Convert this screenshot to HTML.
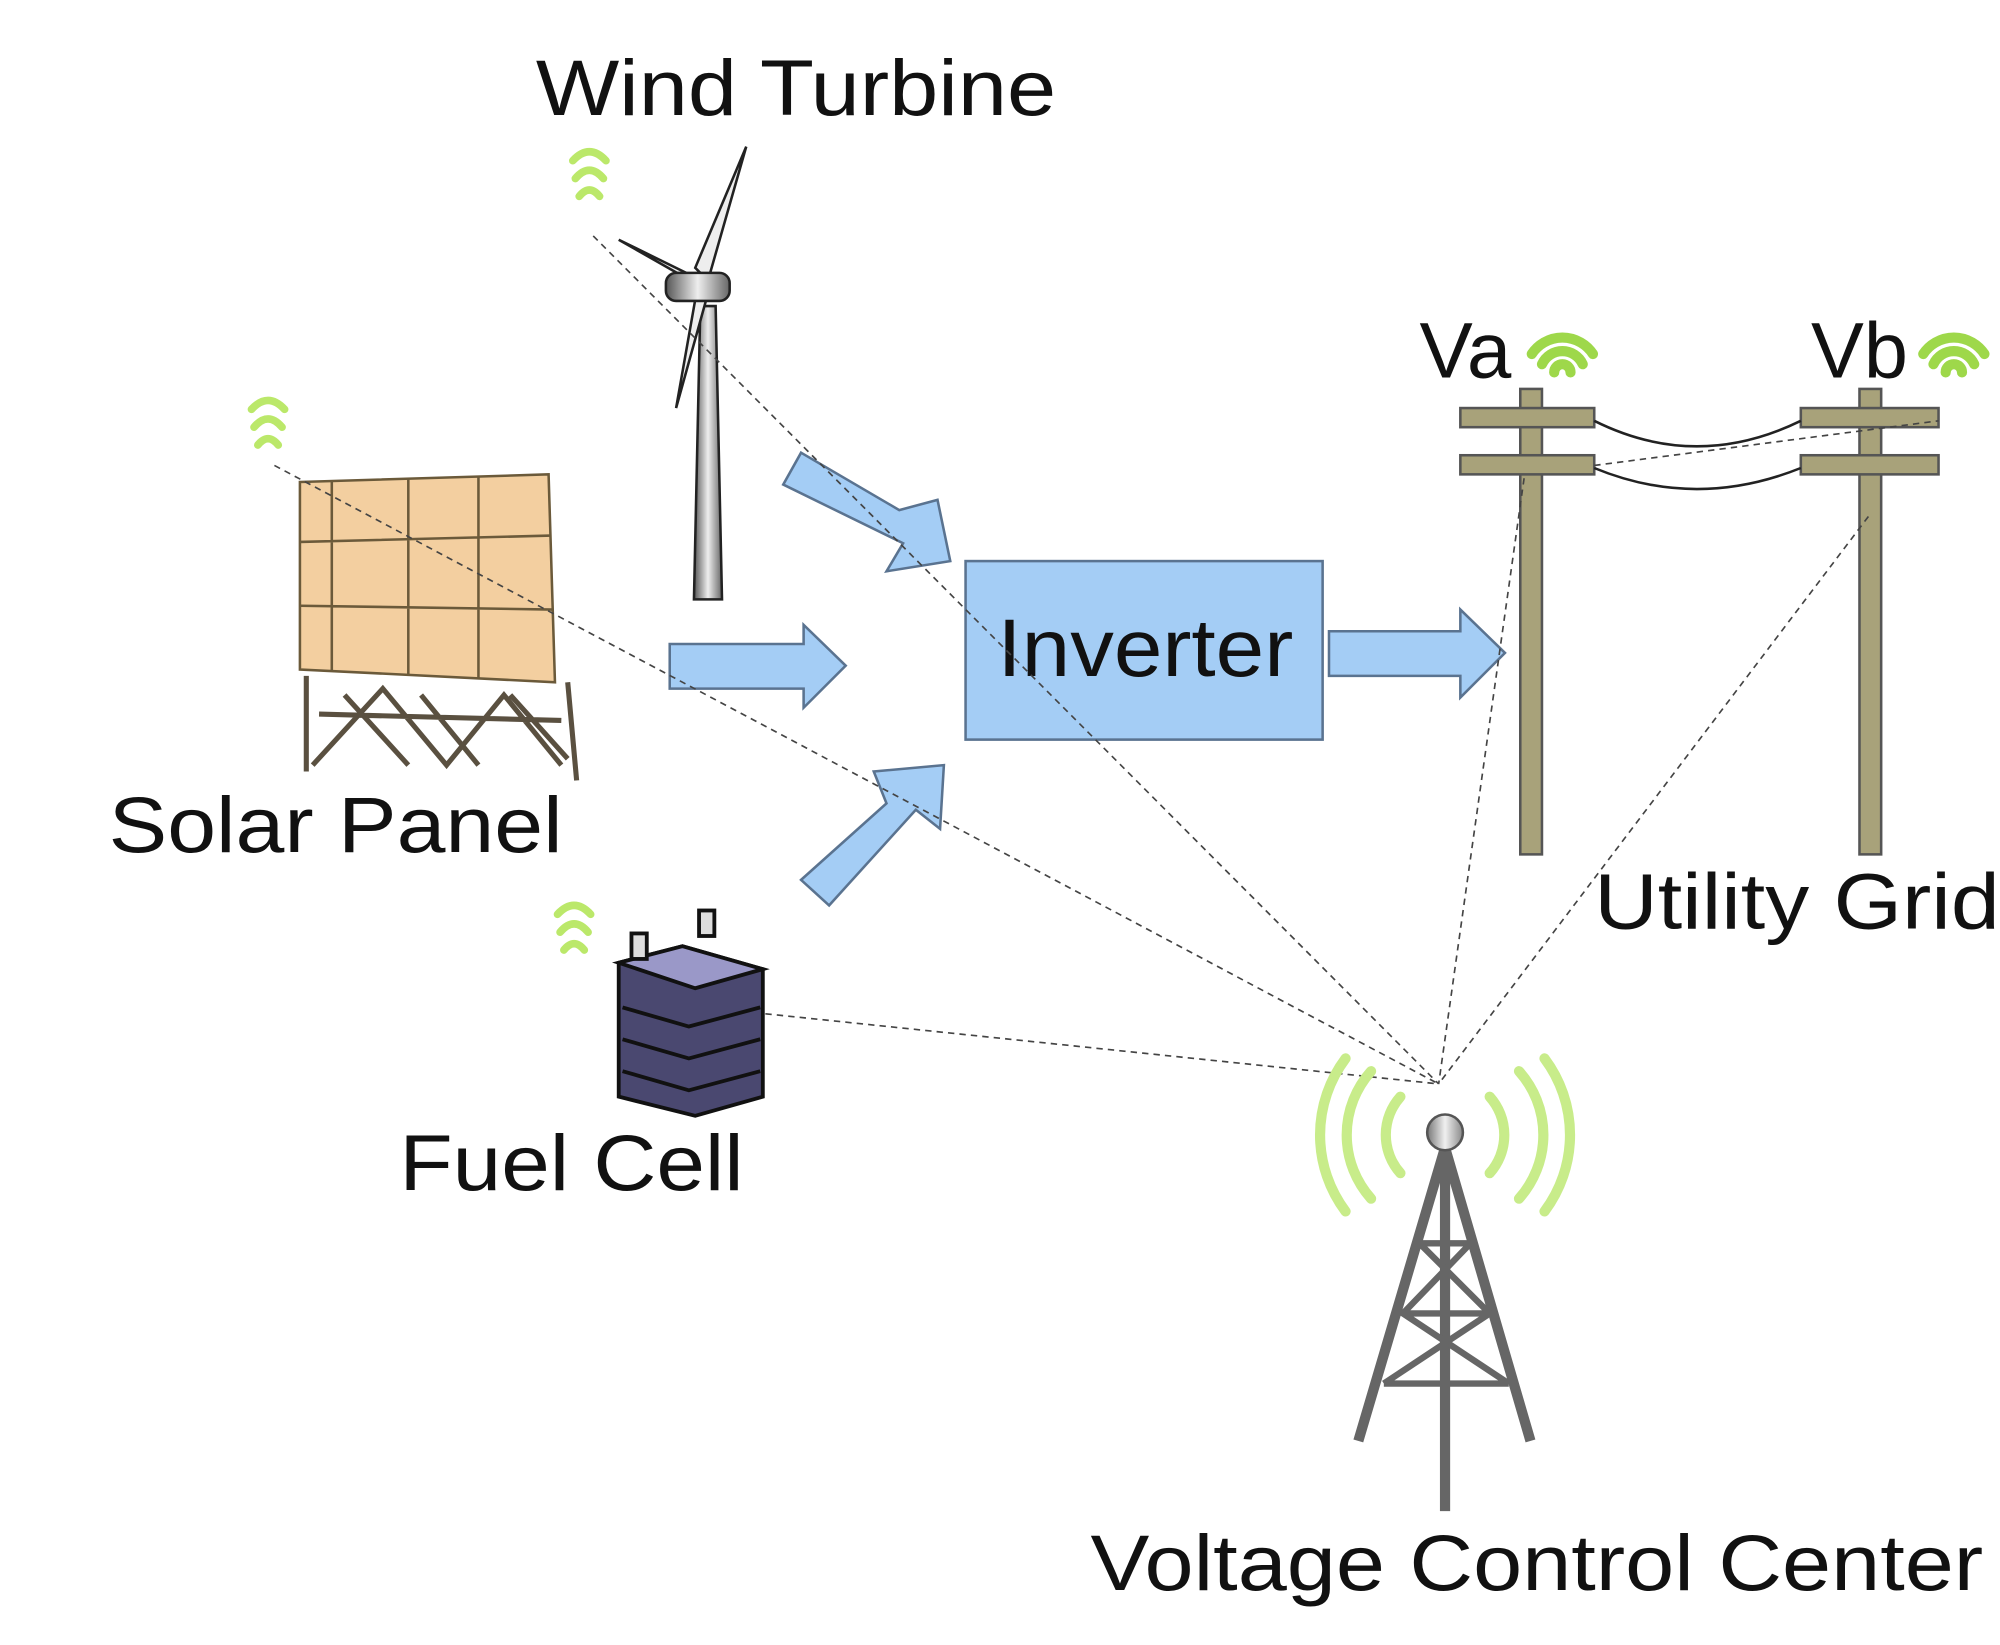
<!DOCTYPE html>
<html><head><meta charset="utf-8"><style>html,body{margin:0;padding:0;background:#fff}svg{display:block}</style></head>
<body>
<svg width="2000" height="1645" viewBox="0 0 1568 1290" xmlns="http://www.w3.org/2000/svg" font-family="Liberation Sans, sans-serif">
<defs>
<linearGradient id="g1" x1="0" x2="1"><stop offset="0" stop-color="#555"/><stop offset="0.5" stop-color="#eee"/><stop offset="1" stop-color="#666"/></linearGradient>
<linearGradient id="g2" x1="0" x2="1"><stop offset="0" stop-color="#777"/><stop offset="0.5" stop-color="#f0f0f0"/><stop offset="1" stop-color="#888"/></linearGradient>
<g id="sig" fill="none" stroke="#9ed84a" stroke-width="5" stroke-linecap="round">
<path d="M-4,0 a4,4 0 0 1 8,0"/><path d="M-10,-4 a11,11 0 0 1 20,0"/><path d="M-15,-9 a18,18 0 0 1 30,0"/>
</g>
<g id="sig2" fill="none" stroke="#b4e65a" stroke-width="6" stroke-linecap="round" opacity="0.9">
<path d="M-13,-16 Q0,-30 13,-16"/><path d="M-11,-2 Q0,-15 11,-2"/><path d="M-8,12 Q0,2 8,12"/>
</g>
</defs>
<rect width="1568" height="1290" fill="#fff"/>

<!-- arrows -->
<g fill="#a4cdf5" stroke="#5a7390" stroke-width="2">
<path d="M525,505 L630,505 L630,490 L663,522 L630,555 L630,540 L525,540 Z"/>
<path d="M1042,495 L1145,495 L1145,478 L1180,512 L1145,547 L1145,530 L1042,530 Z"/>
<path d="M628,355 L705,400 L735,392 L745,440 L695,448 L708,426 L614,380 Z"/>
<path d="M628,690 L695,630 L685,605 L740,600 L737,650 L718,635 L650,710 Z"/>
<rect x="757" y="440" width="280" height="140"/>
</g>
<text x="898" y="530" font-size="64" text-anchor="middle" fill="#111" textLength="232" lengthAdjust="spacingAndGlyphs">Inverter</text>

<!-- wind turbine -->
<path d="M549,240 L561,240 L566,470 L544,470 Z" fill="url(#g1)" stroke="#222" stroke-width="2"/>
<path d="M555,220 L585,115 L545,210 Z" fill="#eee" stroke="#222" stroke-width="2"/>
<path d="M550,225 L485,188 L540,215 Z" fill="#eee" stroke="#222" stroke-width="2"/>
<path d="M555,230 L530,320 L545,235 Z" fill="#eee" stroke="#222" stroke-width="2"/>
<rect x="522" y="214" width="50" height="22" rx="8" fill="url(#g1)" stroke="#222" stroke-width="2"/>

<!-- solar panel -->
<g stroke="#6b5a3a" stroke-width="2">
<path d="M235,378 L430,372 L435,535 L235,525 Z" fill="#f3cfa0"/>
<path d="M260,378 L260,527 M320,376 L320,530 M375,374 L375,532 M235,425 L432,420 M235,475 L433,478" fill="none"/>
<path d="M240,530 L240,605 M445,535 L452,612 M250,560 L440,565 M245,600 L300,540 L350,600 L395,545 L440,600 M270,545 L320,600 M330,545 L375,600 M400,545 L445,595" fill="none" stroke="#5a5040" stroke-width="4"/>
</g>

<!-- fuel cell -->
<path d="M485,755 L535,742 L598,760 L598,860 L545,875 L485,860 Z" fill="#4a4870" stroke="#111" stroke-width="3"/>
<path d="M485,755 L535,742 L598,760 L545,775 Z" fill="#9a98c8" stroke="#111" stroke-width="3"/>
<g stroke="#111" stroke-width="3" fill="none"><path d="M488,790 L540,805 L596,790 M488,815 L540,830 L596,815 M488,840 L540,855 L596,840"/><rect x="495" y="732" width="12" height="20" fill="#ddd"/><rect x="548" y="714" width="12" height="20" fill="#ddd"/></g>

<!-- poles -->
<g fill="#a8a27a" stroke="#555" stroke-width="2">
<rect x="1192" y="305" width="17" height="365"/>
<rect x="1458" y="305" width="17" height="365"/>
<rect x="1145" y="320" width="105" height="15"/>
<rect x="1145" y="357" width="105" height="15"/>
<rect x="1412" y="320" width="108" height="15"/>
<rect x="1412" y="357" width="108" height="15"/>
</g>
<g fill="none" stroke="#222" stroke-width="2">
<path d="M1250,330 Q1330,370 1412,330"/>
<path d="M1250,367 Q1330,400 1412,367"/>
</g>

<!-- dashed connectors (on top) -->
<g stroke="#444" stroke-width="1.3" stroke-dasharray="5,4" fill="none">
<line x1="465" y1="185" x2="1128" y2="850"/>
<line x1="215" y1="365" x2="1128" y2="850"/>
<line x1="600" y1="795" x2="1128" y2="850"/>
<line x1="1195" y1="375" x2="1128" y2="850"/>
<line x1="1465" y1="405" x2="1128" y2="850"/>
<line x1="1250" y1="365" x2="1520" y2="330"/>
</g>

<!-- tower -->
<g fill="none" stroke="#666" stroke-width="8">
<path d="M1133,900 L1065,1130 M1133,900 L1200,1130 M1133,900 L1133,1185"/>
<path d="M1113,975 L1153,975 M1100,1030 L1168,1030 M1085,1085 L1183,1085 M1113,975 L1168,1030 L1085,1085 M1153,975 L1100,1030 L1183,1085" stroke-width="5"/>
</g>
<circle cx="1133" cy="888" r="14" fill="url(#g2)" stroke="#555" stroke-width="2"/>
<g fill="none" stroke="#c8ec8a" stroke-width="8" stroke-linecap="round">
<path d="M1098,860 a45,45 0 0 0 0,60"/><path d="M1075,840 a75,75 0 0 0 0,100"/><path d="M1055,830 a100,100 0 0 0 0,120"/>
<path d="M1168,860 a45,45 0 0 1 0,60"/><path d="M1191,840 a75,75 0 0 1 0,100"/><path d="M1211,830 a100,100 0 0 1 0,120"/>
</g>

<!-- signals -->
<use href="#sig2" transform="translate(462,142)"/>
<use href="#sig2" transform="translate(210,337)"/>
<use href="#sig2" transform="translate(450,733)"/>
<use href="#sig" transform="translate(1225,292) scale(1.6)"/>
<use href="#sig" transform="translate(1532,292) scale(1.6)"/>

<!-- labels -->
<g fill="#111" font-size="62">
<text x="420" y="90" textLength="408" lengthAdjust="spacingAndGlyphs">Wind Turbine</text>
<text x="85" y="668" textLength="356" lengthAdjust="spacingAndGlyphs">Solar Panel</text>
<text x="313" y="933" textLength="270" lengthAdjust="spacingAndGlyphs">Fuel Cell</text>
<text x="1113" y="296" textLength="72" lengthAdjust="spacingAndGlyphs">Va</text>
<text x="1420" y="296" textLength="76" lengthAdjust="spacingAndGlyphs">Vb</text>
<text x="1250" y="728" textLength="318" lengthAdjust="spacingAndGlyphs">Utility Grid</text>
<text x="855" y="1247" textLength="700" lengthAdjust="spacingAndGlyphs">Voltage Control Center</text>
</g>
</svg>
</body></html>
